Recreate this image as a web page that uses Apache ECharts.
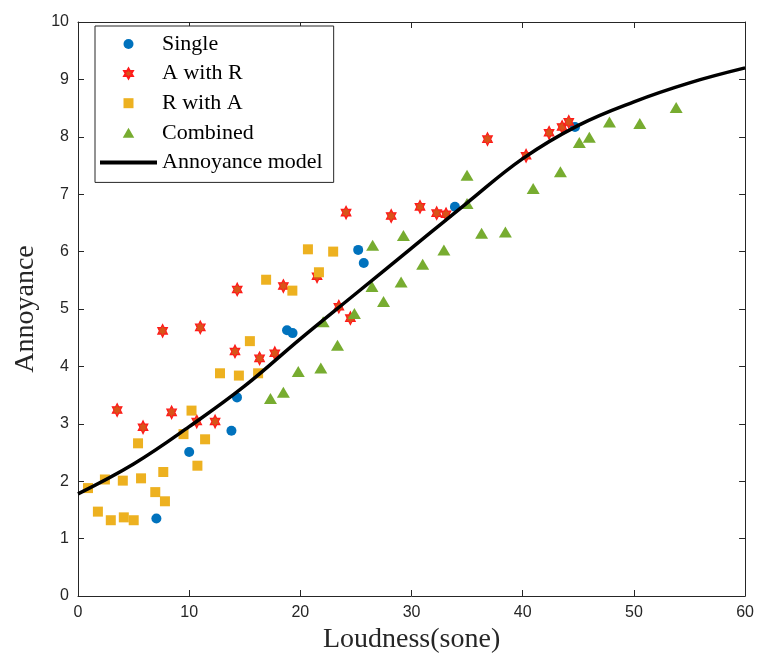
<!DOCTYPE html>
<html>
<head>
<meta charset="utf-8">
<script src="https://cdn.jsdelivr.net/npm/echarts@6/dist/echarts.min.js"></script>
<style>
  html, body { margin: 0; padding: 0; background: #fff; }
  #chart { width: 757px; height: 659px; }
</style>
</head>
<body>
<div id="chart"></div>
<script>
"use strict";
/*global echarts*/

// 数据：点 [响度, 烦恼度]
var singleData = [
  [7.05, 1.35], [10.0, 2.51], [13.8, 2.88], [14.3, 3.46], [18.8, 4.63],
  [19.3, 4.58], [25.2, 6.03], [25.7, 5.8], [33.9, 6.78], [44.7, 8.17]
];
var aWithRData = [
  [3.52, 3.24], [5.85, 2.94], [7.61, 4.62], [8.42, 3.2], [10.68, 3.04],
  [11.0, 4.68], [12.33, 3.04], [14.12, 4.26], [14.32, 5.34], [16.33, 4.14],
  [17.7, 4.23], [18.47, 5.4], [21.5, 5.57], [23.46, 5.04], [24.11, 6.68],
  [24.5, 4.84], [28.17, 6.62], [30.76, 6.78], [32.26, 6.67], [33.1, 6.65],
  [36.83, 7.96], [40.3, 7.67], [42.37, 8.07], [43.54, 8.17], [44.14, 8.26]
];
var rWithAData = [
  [0.9, 1.88], [1.79, 1.47], [2.42, 2.03], [2.95, 1.32], [4.03, 2.01],
  [4.12, 1.37], [5.01, 1.32], [5.4, 2.66], [5.67, 2.05], [6.95, 1.81],
  [7.67, 2.16], [7.82, 1.65], [9.49, 2.82], [10.21, 3.23], [10.74, 2.27],
  [11.43, 2.73], [12.77, 3.88], [14.47, 3.84], [15.46, 4.44], [16.2, 3.88],
  [16.92, 5.51], [19.28, 5.32], [20.68, 6.04], [21.67, 5.64], [22.95, 6.0]
];
var combinedData = [
  [17.31, 3.44], [18.47, 3.55], [19.81, 3.91], [21.84, 3.97], [22.05, 4.78],
  [23.34, 4.37], [24.86, 4.92], [26.44, 5.39], [26.5, 6.11], [27.48, 5.13],
  [29.06, 5.47], [29.27, 6.28], [31.0, 5.78], [32.91, 6.03], [34.99, 6.84],
  [34.99, 7.33], [36.3, 6.32], [38.44, 6.34], [40.94, 7.1], [43.39, 7.39],
  [45.09, 7.9], [45.99, 7.99], [47.8, 8.26], [50.53, 8.23], [53.8, 8.51]
];
// 模型曲线（按图读取的采样点）
var modelX = [0, 5, 10, 15, 20, 25, 30, 35, 40, 45, 50, 55, 60];
var modelY = [1.78, 2.3, 2.95, 3.66, 4.48, 5.27, 6.06, 6.85, 7.62, 8.2, 8.61, 8.94, 9.2];

var seriesNames = ["Single", "A with R", "R with A", "Combined", "Annoyance model"];

// 图例和散点的符号
var hexagram = "path://M0,-100L28.87,-50L86.6,-50L57.7,0L86.6,50L28.87,50L0,100L-28.87,50L-86.6,50L-57.7,0L-86.6,-50L-28.87,-50Z";
var squareIcon = "path://M0,0L10,0L10,10L0,10Z";
var triangleIcon = "path://M5,0L10,8.7L0,8.7Z";
var lineIcon = "path://M0,0L57,0L57,4L0,4Z";

function initGraph() {
  var myChart = echarts.init(document.getElementById("chart"), null, { renderer: "canvas" });
  var axisColor = "#262626";
  var tickFont = { color: axisColor, fontFamily: "Liberation Sans", fontSize: 16 };
  var nameFont = { color: axisColor, fontFamily: "Liberation Serif", fontSize: 28 };
  var tick = { inside: true, length: 6, lineStyle: { color: axisColor } };

  var option = {
    animation: false,
    backgroundColor: "#fff",
    grid: { left: 78, right: 10, top: 22, bottom: 63 },
    legend: {
      data: [
        { name: seriesNames[0], icon: "circle" },
        { name: seriesNames[1], icon: hexagram },
        { name: seriesNames[2], icon: squareIcon },
        { name: seriesNames[3], icon: triangleIcon },
        { name: seriesNames[4], icon: lineIcon, itemStyle: { color: "#000" } }
      ],
      orient: "vertical",
      left: 95,
      top: 26,
      padding: [7, 11, 9, 5],
      itemWidth: 57,
      itemHeight: 10,
      itemGap: 7.6,
      symbolKeepAspect: true,
      borderColor: "#262626",
      borderWidth: 1,
      backgroundColor: "#fff",
      textStyle: { color: "#000", fontFamily: "Liberation Serif", fontSize: 22, lineHeight: 20 }
    },
    xAxis: [
      {
        type: "value", min: 0, max: 60, interval: 10,
        name: "Loudness(sone)", nameLocation: "middle", nameGap: 22, nameTextStyle: nameFont,
        axisLine: { onZero: false, lineStyle: { color: axisColor } },
        axisTick: tick,
        axisLabel: Object.assign({ margin: 9 }, tickFont),
        splitLine: { show: false }
      },
      {
        type: "value", min: 0, max: 60, interval: 10, position: "top",
        axisLine: { show: true, onZero: false, lineStyle: { color: axisColor } },
        axisTick: tick,
        axisLabel: { show: false },
        splitLine: { show: false }
      }
    ],
    yAxis: [
      {
        type: "value", min: 0, max: 10, interval: 1,
        name: "Annoyance", nameLocation: "middle", nameGap: 38, nameTextStyle: nameFont,
        axisLine: { onZero: false, lineStyle: { color: axisColor } },
        axisTick: tick,
        axisLabel: Object.assign({ margin: 9 }, tickFont),
        splitLine: { show: false }
      },
      {
        type: "value", min: 0, max: 10, interval: 1, position: "right",
        axisLine: { show: true, onZero: false, lineStyle: { color: axisColor } },
        axisTick: tick,
        axisLabel: { show: false },
        splitLine: { show: false }
      }
    ],
    series: [
      {
        name: "Single", type: "scatter", data: singleData,
        symbol: "circle", symbolSize: 10,
        itemStyle: { color: "#0072BD", opacity: 1 }
      },
      {
        name: "A with R", type: "scatter", data: aWithRData,
        symbol: hexagram, symbolSize: [11, 12.7], symbolKeepAspect: true,
        itemStyle: { color: "#D95319", borderColor: "#FF1A1A", borderWidth: 1.2, opacity: 1 }
      },
      {
        name: "R with A", type: "scatter", data: rWithAData,
        symbol: "rect", symbolSize: 10,
        itemStyle: { color: "#EDB120", opacity: 1 }
      },
      {
        name: "Combined", type: "scatter", data: combinedData,
        symbol: "triangle", symbolSize: [13, 11],
        itemStyle: { color: "#77AC30", opacity: 1 }
      },
      {
        name: "Annoyance model", type: "line",
        data: modelX.map(function (x, i) { return [x, modelY[i]]; }),
        smooth: 0.4, symbol: "none", z: 5,
        lineStyle: { color: "#000", width: 3.5 },
        itemStyle: { color: "#000" }
      }
    ]
  };
  myChart.setOption(option);
  return myChart;
}

initGraph();
</script>
</body>
</html>
